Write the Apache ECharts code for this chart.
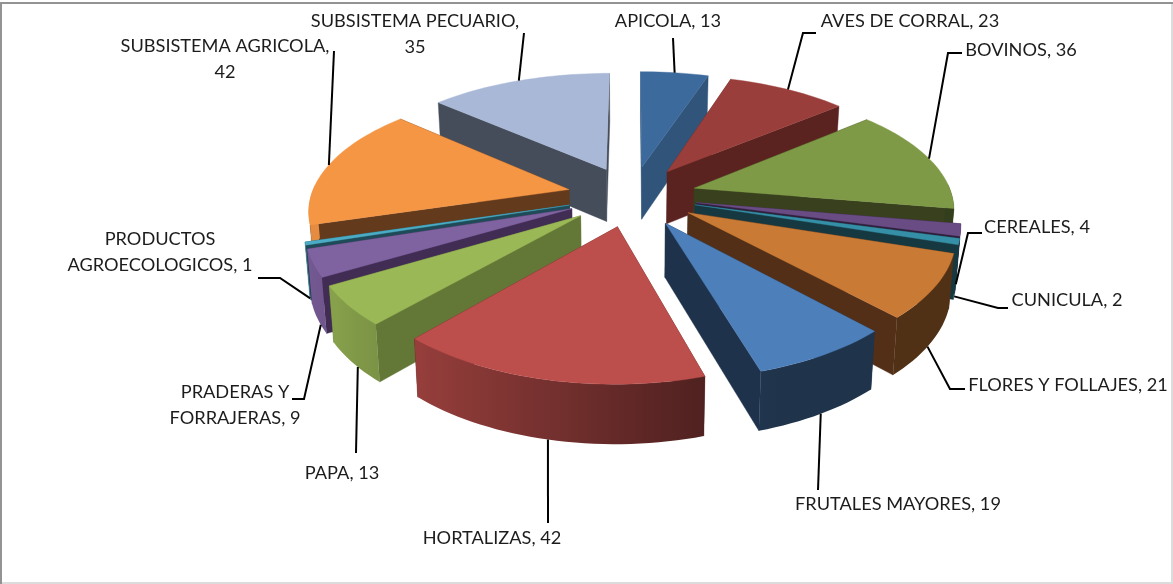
<!DOCTYPE html>
<html><head><meta charset="utf-8">
<style>html,body{margin:0;padding:0;background:#fff}#c{width:1173px;height:584px}</style>
<script src="https://cdn.jsdelivr.net/npm/echarts@6/dist/echarts.min.js"></script>
</head><body><div id="c"></div>
<script>
// ---- data ----
const categories = ['APICOLA','AVES DE CORRAL','BOVINOS','CEREALES','CUNICULA','FLORES Y FOLLAJES','FRUTALES MAYORES','HORTALIZAS','PAPA','PRADERAS Y FORRAJERAS','PRODUCTOS AGROECOLOGICOS','SUBSISTEMA AGRICOLA','SUBSISTEMA PECUARIO'];
const values = [13,23,36,4,2,21,19,42,13,9,1,42,35];
// ---- styles ----
const topColors  = ['#3c6a9c','#9a3e3b','#7f9a46','#6a4c85','#358fa7','#c97a35','#4d7fba','#bc4e4b','#9ab856','#7f62a0','#4bacc6','#f59645','#a8b8d6'];
const wallColors = ['#30547a','#5a2320','#38401d','#2e1f3a','#163841','#532f17','#1e324c','#5a2422','#637737','#412c54','#1f4a57','#633a1c','#454c5a'];
// ---- label layout: text lines, anchor, leader elbows, leader start along the slice ----
const labelLayout = [
  {lines:['APICOLA, 13'], x:668, y:21, elbows:[[673,38]], frac:0.5},
  {lines:['AVES DE CORRAL, 23'], x:910, y:21, elbows:[[803,33],[816,33]], frac:0.5},
  {lines:['BOVINOS, 36'], x:1021, y:50, elbows:[[948,53],[962,53]], frac:0.5},
  {lines:['CEREALES, 4'], x:1037, y:227, elbows:[[968,233],[982,233]], frac:0.5},
  {lines:['CUNICULA, 2'], x:1067, y:300, elbows:[[998,308],[1008,308]], frac:0.5},
  {lines:['FLORES Y FOLLAJES, 21'], x:1068, y:385, elbows:[[950,389],[965,389]], frac:0.55},
  {lines:['FRUTALES MAYORES, 19'], x:898, y:504, elbows:[[818,490]], frac:0.5},
  {lines:['HORTALIZAS, 42'], x:492, y:538, elbows:[[548,523]], frac:0.5},
  {lines:['PAPA, 13'], x:342, y:473, elbows:[[356,453]], frac:0.4},
  {lines:['PRADERAS Y','FORRAJERAS, 9'], x:235, y:392, elbows:[[304,399],[292,399]], frac:0.3},
  {lines:['PRODUCTOS','AGROECOLOGICOS, 1'], x:160, y:239, elbows:[[280,278],[258,278]], frac:0.5},
  {lines:['SUBSISTEMA AGRICOLA,','42'], x:225, y:46, elbows:[[334,51]], frac:0.5},
  {lines:['SUBSISTEMA PECUARIO,','35'], x:415, y:21, elbows:[[524,33]], frac:0.5}
];
// ---- projection ----
const CX=632, CY=196, RX=258, RY=120, PERSP_Y=0.165, PERSP_X=0.15, EXPLODE=0.252;
const total = values.reduce((a,b)=>a+b,0);
const toRad = v => v/total*2*Math.PI;
function project(u,v,bottom){
  const sx=1/(1+PERSP_X*v), sy=1/(1+PERSP_Y*v);
  let x=CX+RX*u*sx, y=CY-RY*v*sy;
  if(bottom){ x=CX+(x-CX)*0.985; y+=26+27*sy; }
  return [x,y];
}
function shade(hex,f){
  const n=parseInt(hex.slice(1),16);
  const c=[n>>16,(n>>8)&255,n&255].map(c=>Math.round(c*f));
  return 'rgb('+c.join(',')+')';
}
const wallLight = s => Math.max(0.4, 0.42+(0.29-s)*0.4);

let acc=0;
const slices = values.map((val,i)=>{
  const a0=toRad(acc), a1=toRad(acc+val); acc+=val;
  const mid=(a0+a1)/2;
  return {i,a0,a1,mid,ou:EXPLODE*Math.sin(mid),ov:EXPLODE*Math.cos(mid)};
});
const drawOrder = slices.slice().sort((p,q)=>Math.cos(q.mid)-Math.cos(p.mid));
const rankOf = {}; drawOrder.forEach((s,k)=>rankOf[s.i]=k);

function rim(sl,a){ return [sl.ou+Math.sin(a), sl.ov+Math.cos(a)]; }
function polyStyle(fill){ return {fill, stroke:fill, lineWidth:0.4}; }

function renderItem(params,api){
  const idx=api.value(0);
  const sl=slices[idx], top=topColors[idx], wall=wallColors[idx];
  const n=Math.max(4,Math.ceil((sl.a1-sl.a0)/0.03));
  const topPts=[], botPts=[], angs=[];
  const apexT=project(sl.ou,sl.ov,false), apexB=project(sl.ou,sl.ov,true);
  for(let k=0;k<=n;k++){
    const a=sl.a0+(sl.a1-sl.a0)*k/n, w=rim(sl,a);
    angs.push(a);
    topPts.push(project(w[0],w[1],false));
    botPts.push(project(w[0],w[1],true));
  }
  const z=rankOf[idx]*10;
  const children=[];
  const radial=(t,b)=>({type:'polygon',z2:z+(t[1]>apexT[1]?2:1),shape:{points:[apexT,t,b,apexB]},style:polyStyle(wall)});
  children.push(radial(topPts[0],botPts[0]));
  children.push(radial(topPts[n],botPts[n]));
  // outer wall: one polygon with a lighting gradient along x, where it faces the viewer
  const vis=[]; for(let k=0;k<=n;k++) if(Math.cos(angs[k])<0.05) vis.push(k);
  if(vis.length>1){
    const upper=vis.map(k=>topPts[k]), lower=vis.map(k=>botPts[k]).reverse();
    const xs=upper.map(p=>p[0]);
    const x0=Math.min(...xs), x1=Math.max(...xs);
    const stops=vis.map(k=>({offset:Math.min(1,Math.max(0,(topPts[k][0]-x0)/Math.max(1,x1-x0))),color:shade(top,wallLight(Math.sin(angs[k])))}))
      .sort((p,q)=>p.offset-q.offset);
    const grad=new echarts.graphic.LinearGradient(x0,0,x1,0,stops,true);
    children.push({type:'polygon',z2:z+3,shape:{points:upper.concat(lower)},style:{fill:grad}});
  }
  children.push({type:'polygon',z2:z+4,shape:{points:[apexT].concat(topPts)},style:polyStyle(top)});
  // leader line, starting from the slice rim
  const lay=labelLayout[idx];
  const la=sl.a0+(sl.a1-sl.a0)*lay.frac;
  const w=rim(sl,la);
  const start=project(w[0],w[1],Math.cos(la)<0);
  children.push({type:'polyline',z2:500,shape:{points:[start].concat(lay.elbows)},style:{fill:null,stroke:'#000',lineWidth:2}});
  // label
  lay.lines.forEach((t,li)=>children.push({type:'text',z2:501,style:{
    text:t,x:lay.x,y:lay.y+li*26.5,align:'center',verticalAlign:'middle',
    font:'18.2px Lato',fill:'#1c1c1c'}}));
  return {type:'group',children};
}

const chart=echarts.init(document.getElementById('c'),null,{renderer:'canvas'});
chart.setOption({
  animation:false,
  backgroundColor:'#ffffff',
  graphic:[
    {type:'rect',shape:{x:0,y:2,width:1173,height:2},style:{fill:'#939393'}},
    {type:'rect',shape:{x:0,y:2,width:2,height:582},style:{fill:'#939393'}},
    {type:'rect',shape:{x:1171,y:4,width:2,height:580},style:{fill:'#dcdcdc'}},
    {type:'rect',shape:{x:2,y:582,width:1171,height:2},style:{fill:'#dcdcdc'}}
  ],
  series:[{type:'custom',coordinateSystem:'none',clip:false,renderItem,
    data:categories.map((c,i)=>({name:c,value:[i,values[i]]})),silent:true}]
});
</script></body></html>
